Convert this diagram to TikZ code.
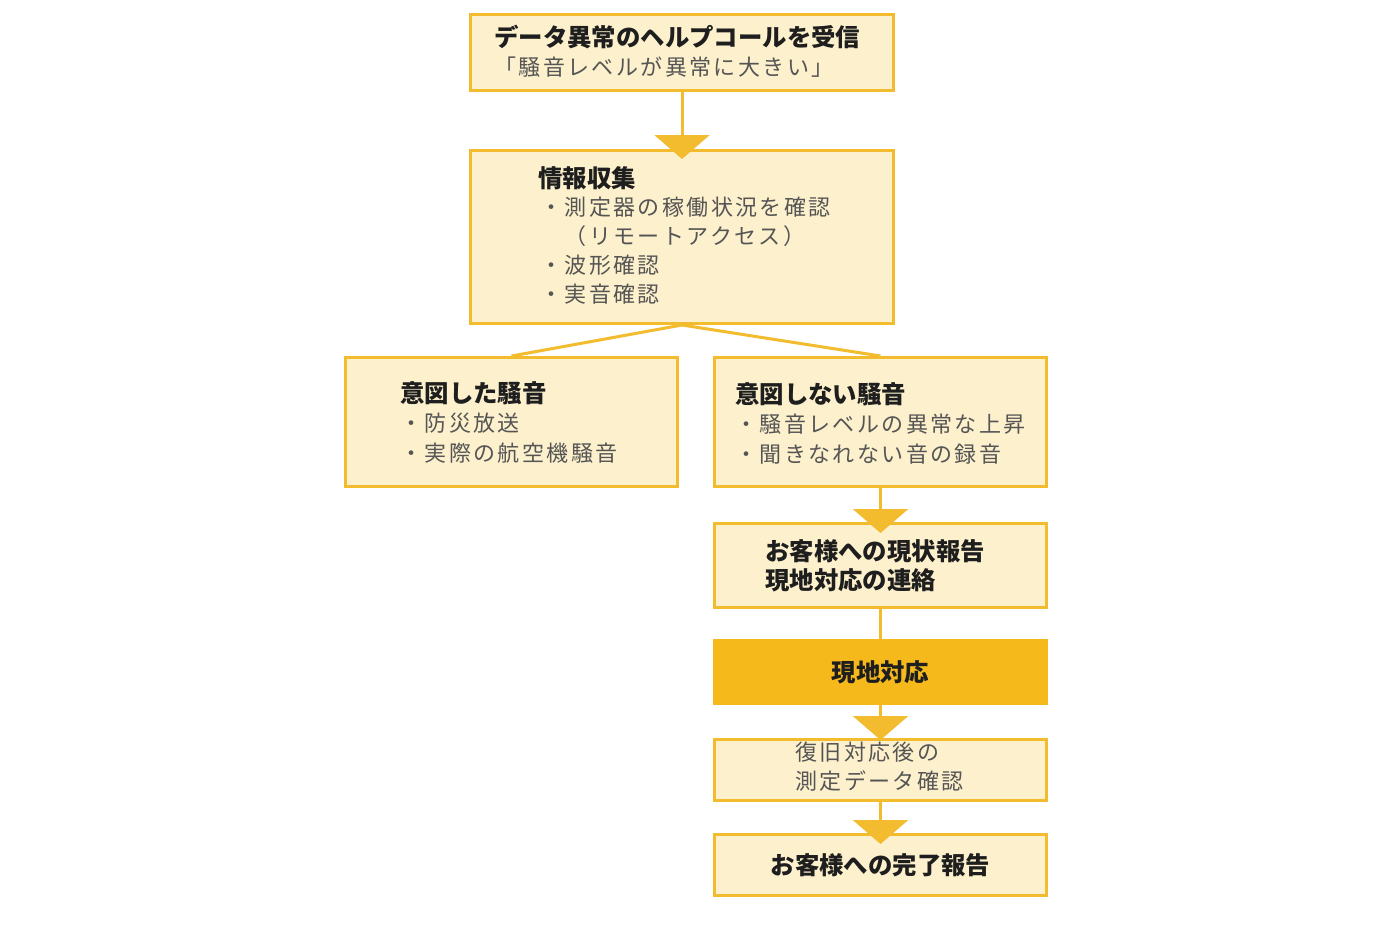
\documentclass[tikz,border=0pt]{standalone}
\usepackage{fontspec}
\setmainfont{Noto Sans CJK JP}
\newfontfamily\jpreg[LetterSpace=11]{Noto Sans CJK JP}
\usetikzlibrary{arrows.meta}
\definecolor{gold}{HTML}{F2BC2E}
\definecolor{cream}{HTML}{FDF0CC}
\definecolor{darkgold}{HTML}{F5B91C}
\definecolor{txt}{HTML}{555555}
\definecolor{txtb}{HTML}{1E1E1E}
\tikzset{
  box/.style={draw=gold, line width=3pt, fill=cream, inner sep=0pt, anchor=north west},
  conn/.style={draw=gold, line width=3pt},
  tip/.style={-{Triangle[width=55pt,length=24pt]}},
  treg/.style={anchor=west, inner sep=0pt, text=txt, font=\jpreg\fontsize{22}{26}\selectfont},
  tbold/.style={anchor=west, inner sep=0pt, text=txtb, font=\bfseries\fontsize{24.4}{28}\selectfont},
}
\begin{document}
\begin{tikzpicture}[x=1pt,y=-1pt]
\useasboundingbox (0,0) rectangle (1400,930);
% boxes
\node[box, minimum width=423pt, minimum height=76pt] (top) at (469,13) {};
\node[box, minimum width=423pt, minimum height=173pt] (info) at (469,149) {};
\node[box, minimum width=332pt, minimum height=129pt] (left) at (344,356) {};
\node[box, minimum width=332pt, minimum height=129pt] (right) at (713,356) {};
\node[box, minimum width=332pt, minimum height=84pt] (rep) at (713,522) {};
\node[box, fill=darkgold, draw=darkgold, minimum width=332pt, minimum height=63pt, text=txtb, font=\bfseries\fontsize{24.4}{28}\selectfont] (onsite) at (713,639) {現地対応};
\node[box, minimum width=332pt, minimum height=61pt] (check) at (713,738) {};
\node[box, minimum width=332pt, minimum height=61pt, text=txtb, font=\bfseries\fontsize{24.4}{28}\selectfont] (done) at (713,833) {お客様への完了報告};
% connectors
\draw[conn, tip, shorten >=-10pt] (top.south) -- (info.north);
\draw[conn] (info.south) -- (left.north);
\draw[conn] (info.south) -- (right.north);
\draw[conn, tip, shorten >=-11pt] (right.south) -- (rep.north);
\draw[conn] (rep.south) -- (onsite.north);
\draw[conn, tip, shorten >=-2pt] (onsite.south) -- (check.north);
\draw[conn, tip, shorten >=-11pt] (check.south) -- (done.north);
% texts
\node[tbold] (t1a) at (494,37) {データ異常のヘルプコールを受信};
\node[treg] (t1b) at (494,67) {「騒音レベルが異常に大きい」};
\node[tbold] (t2a) at (538,178) {情報収集};
\node[treg] (t2b) at (540,207) {・測定器の稼働状況を確認};
\node[treg] (t2c) at (540,236) {　（リモートアクセス）};
\node[treg] (t2d) at (540,265) {・波形確認};
\node[treg] (t2e) at (540,294) {・実音確認};
\node[tbold] (t3a) at (400,393) {意図した騒音};
\node[treg] (t3b) at (400,423) {・防災放送};
\node[treg] (t3c) at (400,453) {・実際の航空機騒音};
\node[tbold] (t4a) at (735,394) {意図しない騒音};
\node[treg] (t4b) at (735,424) {・騒音レベルの異常な上昇};
\node[treg] (t4c) at (735,454) {・聞きなれない音の録音};
\node[tbold] (t5a) at (765,551) {お客様への現状報告};
\node[tbold] (t5b) at (765,580) {現地対応の連絡};
\node[treg] (t6a) at (795,752) {復旧対応後の};
\node[treg] (t6b) at (795,781) {測定データ確認};
\end{tikzpicture}
\end{document}
